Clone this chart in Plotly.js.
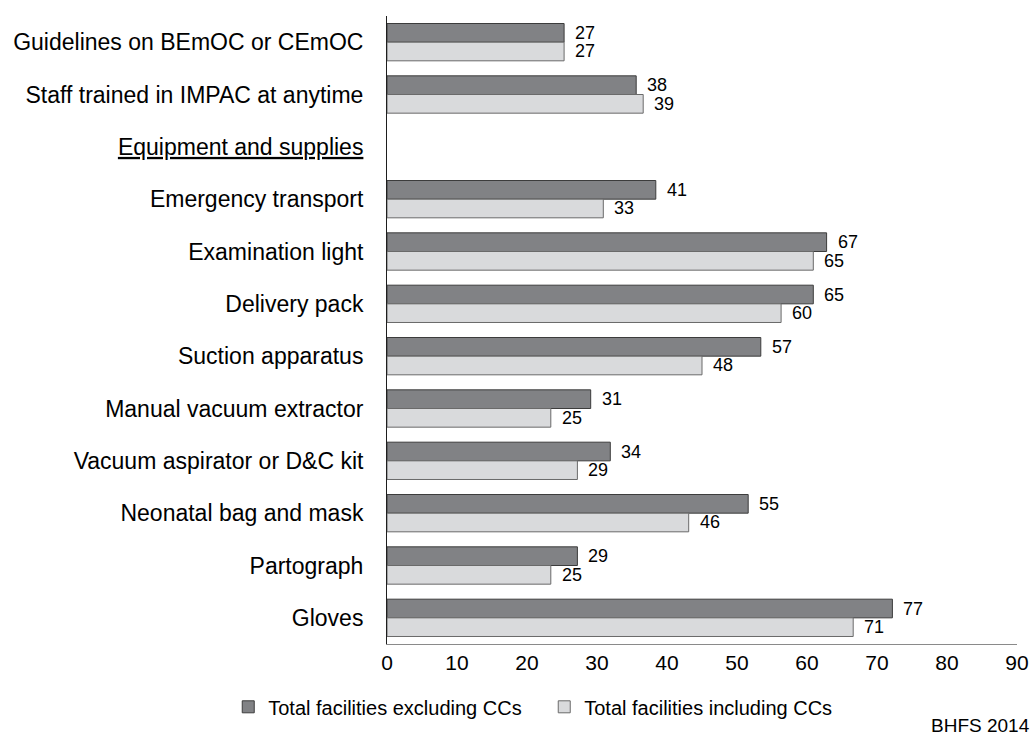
<!DOCTYPE html>
<html>
<head>
<meta charset="utf-8">
<script src="https://cdn.plot.ly/plotly-3.0.1.min.js"></script>
<style>html,body{margin:0;padding:0;background:#fff;}#chart{width:1035px;height:735px;}</style>
</head>
<body>
<div id="chart"></div>
<script>
// Categories, top to bottom
const categories = [
  'Guidelines on BEmOC or CEmOC',
  'Staff trained in IMPAC at anytime',
  'Equipment and supplies',
  'Emergency transport',
  'Examination light',
  'Delivery pack',
  'Suction apparatus',
  'Manual vacuum extractor',
  'Vacuum aspirator or D&C kit',
  'Neonatal bag and mask',
  'Partograph',
  'Gloves'
];
const headerCategory = 'Equipment and supplies';

// Bar lengths
const barExcl = [25.3, 35.6, null, 38.4, 62.8, 60.9, 53.4, 29.1, 31.9, 51.6, 27.2, 72.2];
const barIncl = [25.3, 36.6, null, 30.9, 60.9, 56.3, 45.0, 23.4, 27.2, 43.1, 23.4, 66.6];

// Data labels printed next to the bars
const labelExcl = [27, 38, null, 41, 67, 65, 57, 31, 34, 55, 29, 77];
const labelIncl = [27, 39, null, 33, 65, 60, 48, 25, 29, 46, 25, 71];

const seriesNames = ['Total facilities excluding CCs', 'Total facilities including CCs'];
const xTicks = [0, 10, 20, 30, 40, 50, 60, 70, 80, 90];
const sourceNote = 'BHFS 2014';

const FONT = '"Liberation Sans", Arial, Helvetica, sans-serif';

const traces = [
  {
    type: 'bar', orientation: 'h', name: seriesNames[0],
    y: categories, x: barExcl,
    marker: {color: '#818285', line: {color: '#3c3c3c', width: 1}},
    hoverinfo: 'skip'
  },
  {
    type: 'bar', orientation: 'h', name: seriesNames[1],
    y: categories, x: barIncl,
    marker: {color: '#d9dadc', line: {color: '#6a6a6a', width: 1}},
    hoverinfo: 'skip'
  }
];

const annotations = [];
[[barExcl, labelExcl, 9.3], [barIncl, labelIncl, -9.3]].forEach(([bars, labels, ys]) => {
  categories.forEach((c, i) => {
    if (labels[i] == null) return;
    annotations.push({
      x: bars[i], y: c, xref: 'x', yref: 'y',
      text: String(labels[i]), showarrow: false,
      xanchor: 'left', yanchor: 'middle', xshift: 9, yshift: ys,
      font: {family: FONT, size: 18, color: '#000'}
    });
  });
});
annotations.push({
  xref: 'paper', yref: 'paper', x: 1.024, y: -0.129,
  xanchor: 'right', yanchor: 'middle', showarrow: false,
  text: sourceNote, font: {family: FONT, size: 19, color: '#000'}
});

const layout = {
  width: 1035, height: 735,
  margin: {l: 387, r: 18, t: 16, b: 91, autoexpand: false},
  paper_bgcolor: '#fff', plot_bgcolor: '#fff',
  font: {family: FONT, color: '#000'},
  barmode: 'group', bargap: 0.287, bargroupgap: 0,
  showlegend: true,
  legend: {
    orientation: 'h', x: -0.252, xanchor: 'left', y: -0.1, yanchor: 'middle',
    entrywidth: 271,
    font: {family: FONT, size: 20, color: '#000'},
    traceorder: 'normal', itemclick: false, itemdoubleclick: false
  },
  xaxis: {
    range: [0, 90], tickvals: xTicks, ticktext: xTicks.map(String),
    showgrid: false, zeroline: false, showline: true,
    linecolor: '#8a8a8a', linewidth: 1, ticks: '',
    tickfont: {family: FONT, size: 21, color: '#000'},
    fixedrange: true
  },
  yaxis: {
    type: 'category', autorange: 'reversed',
    tickvals: categories,
    ticktext: categories.map(c => c === headerCategory ? '<u>' + c + '</u>' : c),
    showgrid: false, zeroline: false, showline: true,
    linecolor: '#1e1e1e', linewidth: 1, ticks: '',
    ticklabelstandoff: 18,
    tickfont: {family: FONT, size: 23, color: '#000'},
    fixedrange: true
  },
  annotations: annotations
};

Plotly.newPlot('chart', traces, layout, {displayModeBar: false, staticPlot: true});
</script>
</body>
</html>
